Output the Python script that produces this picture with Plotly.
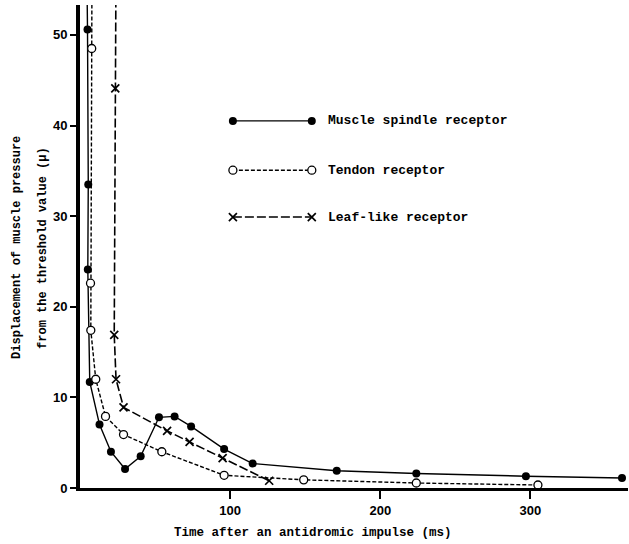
import plotly.graph_objects as go

# ---- data ----
muscle_x = [4.5, 5.0, 5.5, 5.2, 6.5, 13, 20.6, 30, 40.4, 52.6, 63, 74, 96, 115, 171, 224, 297, 361]
muscle_y = [58, 50.6, 33.5, 24.1, 11.7, 7.0, 4.0, 2.1, 3.5, 7.8, 7.9, 6.8, 4.3, 2.7, 1.9, 1.6, 1.3, 1.1]

tendon_x = [8.0, 7.8, 7.0, 7.2, 10.5, 17, 29, 54.5, 96, 149, 224, 305]
tendon_y = [58, 48.5, 22.6, 17.4, 12.0, 7.9, 5.9, 4.0, 1.4, 0.9, 0.55, 0.33]

leaf_x = [24.0, 23.5, 22.8, 24.0, 29, 58, 73, 95, 126]
leaf_y = [58, 44.1, 16.9, 12.0, 8.9, 6.3, 5.1, 3.3, 0.8]

series_names = ["Muscle spindle receptor", "Tendon receptor", "Leaf-like receptor"]
x_ticks = [100, 200, 300]
y_ticks = [0, 10, 20, 30, 40, 50]

x_title = "Time after an antidromic impulse (ms)"
y_title_1 = "Displacement of muscle pressure"
y_title_2 = "from the threshold value (\u03bc)"

# ---- styles ----
W, H = 629, 544
ML, MR, MT, MB = 80, 1, 5, 56
mono = "Liberation Mono"
sans = "Liberation Sans"

styles = [
    dict(line=dict(color="black", width=1.4, dash="solid"),
         marker=dict(symbol="circle", size=8, color="black")),
    dict(line=dict(color="black", width=1.4, dash="4px,2px"),
         marker=dict(symbol="circle", size=8, color="white", line=dict(width=1.3, color="black"))),
    dict(line=dict(color="black", width=1.6, dash="9px,3px"),
         marker=dict(symbol="x-thin-open", size=8, color="black", line=dict(width=1.7, color="black"))),
]

fig = go.Figure()
for (xs, ys), st in zip([(muscle_x, muscle_y), (tendon_x, tendon_y), (leaf_x, leaf_y)], styles):
    fig.add_trace(go.Scatter(x=xs, y=ys, mode="lines+markers", showlegend=False,
                             cliponaxis=True, **st))

# legend samples drawn on an overlay axis (fractions of the plot area)
leg_x0, leg_x1 = 0.279, 0.423
leg_ys = [0.760, 0.658, 0.561]
for name, st, ly in zip(series_names, styles, leg_ys):
    fig.add_trace(go.Scatter(x=[leg_x0, leg_x1], y=[ly, ly], mode="lines+markers",
                             xaxis="x2", yaxis="y2", showlegend=False, **st))
    fig.add_annotation(text=name, xref="paper", yref="paper", x=0.449, y=ly,
                       xanchor="left", yanchor="middle", showarrow=False,
                       font=dict(family=mono, size=13, color="black", weight="bold"))

# axis titles
fig.add_annotation(text=x_title, xref="paper", yref="paper", x=0.425, y=0, yshift=-45,
                   xanchor="center", yanchor="middle", showarrow=False,
                   font=dict(family=mono, size=12.5, color="black", weight="bold"))
fig.add_annotation(text=y_title_1, xref="paper", yref="paper", x=0, xshift=-63, y=0.497,
                   xanchor="center", yanchor="middle", textangle=-90, showarrow=False,
                   font=dict(family=mono, size=12, color="black", weight="bold"))
fig.add_annotation(text=y_title_2, xref="paper", yref="paper", x=0, xshift=-37, y=0.497,
                   xanchor="center", yanchor="middle", textangle=-90, showarrow=False,
                   font=dict(family=mono, size=12, color="black", weight="bold"))

fig.update_layout(
    width=W, height=H,
    margin=dict(l=ML, r=MR, t=MT, b=MB),
    paper_bgcolor="white", plot_bgcolor="white",
    xaxis=dict(range=[0, 365], tickvals=x_ticks, ticks="outside", ticklen=8, tickwidth=2,
               tickcolor="black", showline=True, linewidth=3, linecolor="black",
               showgrid=False, zeroline=False,
               tickfont=dict(family=sans, size=13, color="black", weight="bold")),
    yaxis=dict(range=[0, 53.3], tickvals=y_ticks, ticks="outside", ticklen=6, tickwidth=2,
               tickcolor="black", showline=True, linewidth=4, linecolor="black",
               showgrid=False, zeroline=False,
               tickfont=dict(family=sans, size=13, color="black", weight="bold")),
    xaxis2=dict(range=[0, 1], overlaying="x", visible=False, showgrid=False, zeroline=False),
    yaxis2=dict(range=[0, 1], overlaying="y", visible=False, showgrid=False, zeroline=False),
)

fig.write_html("out.html")
